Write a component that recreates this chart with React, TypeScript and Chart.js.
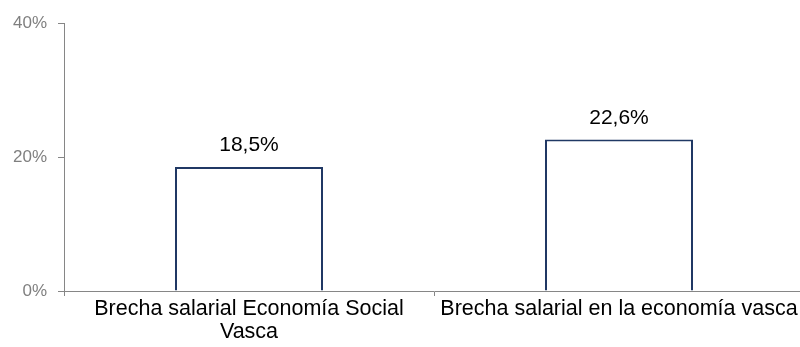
import React, { useEffect, useRef } from "react";
import { Chart, registerables } from "chart.js";

Chart.register(...registerables);

const categories: (string | string[])[] = [
  ["Brecha salarial Economía Social", "Vasca"],
  "Brecha salarial en la economía vasca",
];
const values: number[] = [18.5, 22.6];
const yTicks: number[] = [0, 20, 40];

const FONT = "'Liberation Sans', Arial, sans-serif";

const valueLabels = {
  id: "valueLabels",
  afterDatasetsDraw(chart: any) {
    const ctx = chart.ctx;
    const meta = chart.getDatasetMeta(0);
    ctx.save();
    ctx.font = `21px ${FONT}`;
    ctx.fillStyle = "#000000";
    ctx.textAlign = "center";
    ctx.textBaseline = "alphabetic";
    meta.data.forEach((bar: any, i: number) => {
      const v = values[i];
      const txt = v.toFixed(1).replace(".", ",") + "%";
      ctx.fillText(txt, bar.x, bar.y - 16);
    });
    ctx.restore();
  },
};

export default function App() {
  const ref = useRef<HTMLCanvasElement | null>(null);

  useEffect(() => {
    if (!ref.current) return;
    const chart = new Chart(ref.current, {
      type: "bar",
      data: {
        labels: categories,
        datasets: [
          {
            data: values,
            backgroundColor: "#ffffff",
            borderColor: "#203864",
            borderWidth: 2,
            borderSkipped: "bottom",
            categoryPercentage: 1,
            barPercentage: 0.4,
          },
        ],
      },
      options: {
        responsive: false,
        animation: false,
        events: [],
        layout: { padding: { top: 23, left: 0, right: 6, bottom: 0 } },
        plugins: {
          legend: { display: false },
          tooltip: { enabled: false },
        },
        scales: {
          x: {
            grid: {
              offset: true,
              drawOnChartArea: false,
              drawTicks: true,
              tickLength: 5,
              color: "#868686",
            },
            border: { color: "#868686", width: 1 },
            ticks: {
              color: "#000000",
              font: { family: FONT, size: 21.5, lineHeight: 1.08 },
              padding: 1,
              maxRotation: 0,
              autoSkip: false,
            },
            afterFit: (scale: any) => {
              scale.height = 56;
            },
          },
          y: {
            min: 0,
            max: 40,
            afterBuildTicks: (scale: any) => {
              scale.ticks = yTicks.map((v) => ({ value: v }));
            },
            grid: {
              drawOnChartArea: false,
              drawTicks: true,
              tickLength: 6,
              color: "#868686",
            },
            border: { color: "#868686", width: 1 },
            ticks: {
              color: "#7f7f7f",
              font: { family: FONT, size: 17 },
              padding: 11,
              callback: (v: any) => v + "%",
            },
            afterFit: (scale: any) => {
              scale.width = 64;
            },
          },
        },
      },
      plugins: [valueLabels],
    });
    return () => chart.destroy();
  }, []);

  return (
    <div
      style={{
        position: "fixed",
        left: 0,
        top: 0,
        width: 800,
        height: 347,
        overflow: "hidden",
        background: "#ffffff",
      }}
    >
      <canvas ref={ref} width={810} height={347} style={{ display: "block" }} />
    </div>
  );
}
